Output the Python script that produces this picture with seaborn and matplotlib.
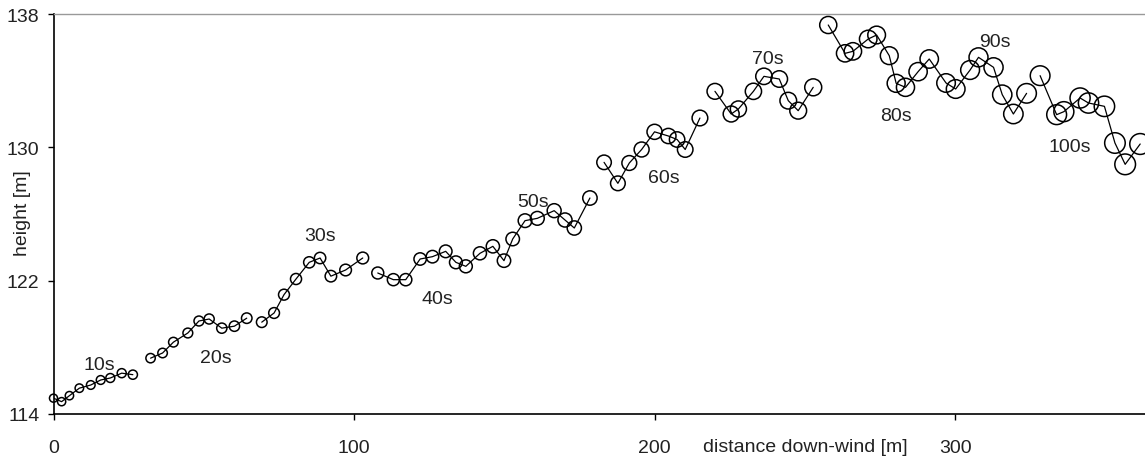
import numpy as np
import pandas as pd
import seaborn as sns
import matplotlib.pyplot as plt

sns.set_theme(style="white")
plt.rcParams['font.family'] = ['Liberation Sans', 'DejaVu Sans']

# distance down-wind [m] and height [m] of the plume track, one list per connected segment
dist_1 = [0.0, 2.7, 5.3, 8.6, 12.4, 15.7, 18.9, 22.7, 26.4]
height_1 = [114.95, 114.74, 115.1, 115.55, 115.74, 116.04, 116.16, 116.45, 116.36]
dist_2 = [32.3, 36.3, 39.9, 44.7, 48.4, 51.8, 56.0, 60.2, 64.3]
height_2 = [117.35, 117.66, 118.31, 118.86, 119.58, 119.7, 119.15, 119.27, 119.75]
dist_3 = [69.3, 73.4, 76.7, 80.7, 85.1, 88.7, 92.3, 97.2, 102.9]
height_3 = [119.51, 120.06, 121.16, 122.1, 123.1, 123.36, 122.27, 122.64, 123.36]
dist_4 = [107.9, 113.1, 117.2, 122.0, 126.1, 130.5, 133.9, 137.2, 141.9,
          146.2, 149.9, 152.8, 156.9, 161.0, 166.6, 170.2, 173.3, 178.5]
height_4 = [122.46, 122.06, 122.06, 123.3, 123.44, 123.76, 123.1, 122.86, 123.64,
            124.06, 123.2, 124.5, 125.6, 125.74, 126.2, 125.64, 125.16, 126.96]
dist_5 = [183.2, 187.8, 191.6, 195.7, 200.0, 204.6, 207.5, 210.2, 215.1]
height_5 = [129.1, 127.84, 129.06, 129.87, 130.93, 130.68, 130.47, 129.87, 131.76]
dist_6 = [220.1, 225.5, 227.9, 232.9, 236.4, 241.5, 244.5, 247.8, 252.8]
height_6 = [133.36, 132.0, 132.3, 133.36, 134.26, 134.1, 132.8, 132.2, 133.6]
dist_7 = [257.8, 263.4, 266.0, 271.1, 273.9, 278.1, 280.4, 283.5, 287.7,
          291.4, 297.0, 300.2, 305.0, 307.8, 312.8, 315.7, 319.4, 323.8]
height_7 = [137.34, 135.64, 135.76, 136.5, 136.74, 135.5, 133.84, 133.6, 134.54,
            135.3, 133.86, 133.5, 134.64, 135.4, 134.8, 133.16, 132.0, 133.24]
dist_8 = [328.3, 333.8, 336.2, 341.6, 344.4, 349.7, 353.2, 356.6, 361.6]
height_8 = [134.3, 131.96, 132.14, 132.96, 132.66, 132.46, 130.26, 128.98, 130.2]

# time labels along the track
time_labels = ['10s', '20s', '30s', '40s', '50s', '60s', '70s', '80s', '90s', '100s']
label_x = [15.1, 53.9, 88.7, 127.9, 159.7, 203.2, 237.8, 280.4, 313.1, 338.2]
label_y = [116.94, 117.36, 124.74, 120.9, 126.75, 128.22, 135.3, 131.94, 136.38, 130.05]

segments = [(dist_1, height_1), (dist_2, height_2), (dist_3, height_3), (dist_4, height_4),
            (dist_5, height_5), (dist_6, height_6), (dist_7, height_7), (dist_8, height_8)]
frames = []
for i, (d, h) in enumerate(segments):
    frames.append(pd.DataFrame({'dist': d, 'height': h, 'segment': i}))
track = pd.concat(frames, ignore_index=True)

# circles grow along the track (diameter in points)
diam = np.linspace(5.8, 15.0, len(track))
track['msize'] = diam ** 2

fig = plt.figure(figsize=(11.45, 4.6), dpi=100)
ax = fig.add_axes([53.5 / 1145, 45 / 460, 1091.5 / 1145, 400 / 460])

sns.lineplot(data=track, x='dist', y='height', units='segment', estimator=None, sort=False,
             color='black', linewidth=0.9, ax=ax, legend=False)
sns.scatterplot(data=track, x='dist', y='height', size='msize',
                sizes=(diam.min() ** 2, diam.max() ** 2), marker='o',
                facecolor='none', edgecolor='black', linewidth=1.1,
                legend=False, ax=ax, clip_on=False, zorder=3)

for t, lx, ly in zip(time_labels, label_x, label_y):
    ax.text(lx, ly, t, ha='center', va='center', fontsize=14, color='#222222')

ax.set_xlim(0, 363.2)
ax.set_ylim(114, 138)
ax.set_xticks([0, 100, 200, 300])
ax.set_yticks([114, 122, 130, 138])
ax.tick_params(axis='x', direction='out', length=4, width=1, pad=14,
               labelsize=14, colors='black', labelcolor='#222222', bottom=True)
ax.tick_params(axis='y', direction='out', length=4, width=1, pad=6,
               labelsize=14, colors='black', labelcolor='#222222', left=True)

ax.set_xlabel('distance down-wind [m]', fontsize=14, color='#222222')
ax.xaxis.set_label_coords(0.689, -0.06)
ax.set_ylabel('height [m]', fontsize=14, color='#222222')
ax.yaxis.set_label_coords(-0.021, 0.505)

for side in ['left', 'bottom']:
    ax.spines[side].set_color('black')
    ax.spines[side].set_linewidth(1.2)
ax.spines['top'].set_color('#999999')
ax.spines['top'].set_linewidth(1.0)
ax.spines['right'].set_visible(False)

plt.savefig('out.png', dpi=100)
